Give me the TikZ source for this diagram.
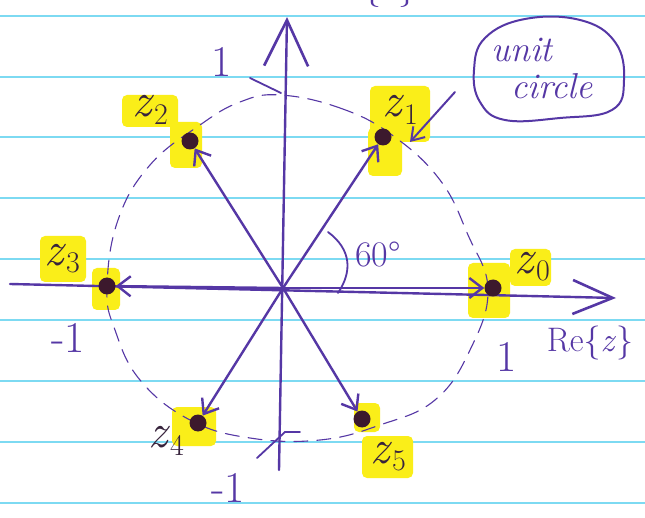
\documentclass[tikz,border=0pt]{standalone}
\usepackage{fontspec}
\usetikzlibrary{arrows.meta}
\definecolor{ink}{RGB}{85,55,165}
\definecolor{rulec}{RGB}{125,218,242}
\definecolor{hly}{RGB}{250,238,25}
\definecolor{dotc}{RGB}{60,25,45}
\definecolor{zink}{RGB}{55,35,60}
\newcommand\zsub[1]{\textit{z}\raisebox{-0.35ex}{\fontsize{30}{32}\selectfont #1}}
\begin{document}
\begin{tikzpicture}[x=1pt,y=-1pt,
  pen/.style={draw=ink,line width=2.4pt,line cap=round,line join=round},
  thin pen/.style={draw=ink,line width=1.3pt,line cap=round},
  vec/.style={pen,-{Straight Barb[length=13pt,width=20pt,line width=2.4pt]}},
  hl/.style={fill=hly,rounded corners=5pt},
  zdot/.style={circle,fill=dotc,inner sep=0pt,minimum size=17pt},
  zlab/.style={text=zink,font=\fontsize{48}{50}\selectfont,inner sep=0pt},
  num/.style={text=ink,font=\fontsize{44}{46}\selectfont,inner sep=0pt},
  hand/.style={text=ink,font=\itshape\fontsize{36}{38}\selectfont,inner sep=0pt}]
\useasboundingbox (0,0) rectangle (645,518);
\fill[white] (0,0) rectangle (645,518);
% ruled paper
\foreach \y in {16,77,137,198,259,320,381,442,503}
  \draw[rulec,line width=2.2pt] (0,\y) -- (645,\y);
% highlights
\fill[hl] (122,95) rectangle (178,127);
\fill[hl] (170,122) rectangle (202,168);
\fill[hl] (370,86) rectangle (430,142);
\fill[hl] (368,128) rectangle (402,176);
\fill[hl] (40,236) rectangle (86,282);
\fill[hl] (92,268) rectangle (120,310);
\fill[hl] (510,249) rectangle (551,286);
\fill[hl] (468,263) rectangle (510,318);
\fill[hl] (172,407) rectangle (216,446);
\fill[hl] (354,403) rectangle (380,432);
\fill[hl] (362,436) rectangle (413,478);
% unit circle (hand drawn, dashed)
\draw[thin pen,line width=1.1pt,dash pattern=on 14pt off 9pt] plot[smooth cycle,tension=0.7] coordinates
  {(280,95) (340,108) (392,135) (440,180) (468,235) (488,290) (470,350)
   (435,400) (380,425) (320,440) (250,438) (190,420) (140,380) (115,330)
   (107,288) (118,220) (150,165) (200,125) (240,102)};
% axes
\coordinate (O) at (283,288);
\coordinate (xl) at (10,284);
\coordinate (xr) at (616,298);
\coordinate (yb) at (279,470);
\coordinate (yt) at (287,17);
\draw[pen,-{Straight Barb[length=46pt,width=44pt,line width=2.6pt]}] (yb) -- (yt);
\draw[pen,-{Straight Barb[length=40pt,width=34pt,line width=2.6pt]}] (xl) -- (xr);
% points
\node[zdot] (z0) at (493,288) {};
\node[zdot] (z1) at (383,137) {};
\node[zdot] (z2) at (190,141) {};
\node[zdot] (z3) at (107,286) {};
\node[zdot] (z4) at (198,423) {};
\node[zdot] (z5) at (362,419) {};
% vectors
\foreach \k in {0,1,2,3,4,5}
  \draw[vec] (O) -- (z\k);
% labels of points
\node[zlab] (l0) at (532,267) {\zsub{0}};
\node[zlab] (l1) at (400,110) {\zsub{1}};
\node[zlab] (l2) at (150,110) {\zsub{2}};
\node[zlab] (l3) at (62,259) {\zsub{3}};
\node[zlab] (l4) at (166,441) {\zsub{4}};
\node[zlab] (l5) at (388,457) {\zsub{5}};
% axis numbers
\node[num] (n1) at (222,62) {1};
\node[num] (n2) at (68,338) {-1};
\node[num] (n3) at (507,357) {1};
\node[num] (n4) at (228,488) {-1};
\node[text=ink,font=\fontsize{34}{36}\selectfont,inner sep=0pt] (re) at (590,343) {Re\{\textit{z}\}};
\node[text=ink,font=\fontsize{36}{38}\selectfont,inner sep=0pt,anchor=south] (im) at (370,8) {Im\{\textit{z}\}};
% small crossing marks
\draw[thin pen,line width=1.8pt] (250,78) -- (281,93);
\draw[thin pen,line width=1.8pt] (257,458) -- (285,432) -- (300,432);
% 60 degree angle
\draw[thin pen,line width=1.8pt] (328,232) .. controls (352,250) and (352,272) .. (338,293);
\node[text=ink,font=\fontsize{36}{38}\selectfont,inner sep=0pt] (ang) at (378,254) {60°};
% unit circle note
\draw[thin pen,line width=2pt] plot[smooth cycle,tension=0.7] coordinates
  {(485,38) (525,19) (580,20) (615,42) (624,80) (612,110) (560,118) (505,120) (480,102) (474,70)};
\node[hand] (t1) at (522,50) {unit};
\node[hand] (t2) at (552,86) {circle};
\coordinate (na) at (455,92);
\coordinate (nb) at (410,142);
\draw[pen,line width=2pt,-{Straight Barb[length=12pt,width=16pt,line width=2pt]}] (na) -- (nb);
\end{tikzpicture}
\end{document}
